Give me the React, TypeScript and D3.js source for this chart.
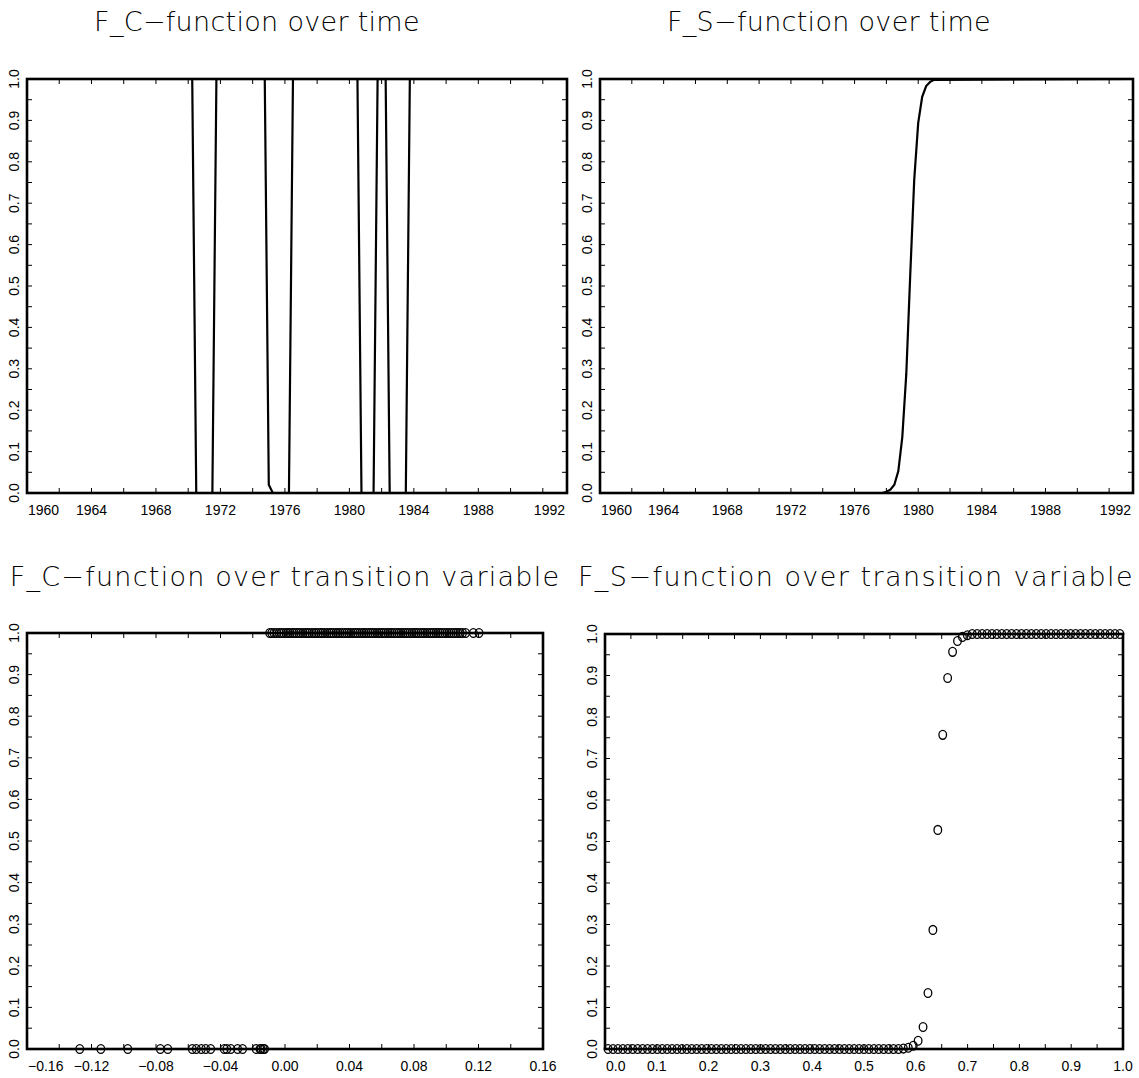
import * as d3 from "d3";
import { useEffect, useRef } from "react";

const W = 1139;
const H = 1078;

// y axis of every panel
const yLabels = [0, 0.1, 0.2, 0.3, 0.4, 0.5, 0.6, 0.7, 0.8, 0.9, 1.0];
const yMinor = [0, 0.05, 0.1, 0.15, 0.2, 0.25, 0.3, 0.35, 0.4, 0.45, 0.5, 0.55, 0.6, 0.65, 0.7, 0.75, 0.8, 0.85, 0.9, 0.95, 1.0];

// time axis
const yearLabels = [1960, 1964, 1968, 1972, 1976, 1980, 1984, 1988, 1992];
const yearMinor = [1960, 1962, 1964, 1966, 1968, 1970, 1972, 1974, 1976, 1978, 1980, 1982, 1984, 1986, 1988, 1990, 1992];

// F_C over time (corner points of the quarterly path)
const fcYears = [1960, 1970.25, 1970.5, 1971.5, 1971.75, 1974.75, 1975.0, 1975.25, 1976.25, 1976.5,
  1980.5, 1980.75, 1981.5, 1981.75, 1982.25, 1982.5, 1983.5, 1983.75, 1993.5];
const fcValues = [1, 1, 0, 0, 1, 1, 0.02, 0, 0, 1, 1, 0, 0, 1, 1, 0, 0, 1, 1];

// F_S over time
const fsYears = [1960, 1977.75, 1978.0, 1978.25, 1978.5, 1978.75, 1979.0, 1979.25, 1979.5, 1979.75,
  1980.0, 1980.25, 1980.5, 1980.75, 1981.0, 1993.5];
const fsValues = [0, 0, 0.003, 0.008, 0.02, 0.053, 0.135, 0.287, 0.528, 0.757, 0.894, 0.957, 0.983, 0.993, 0.998, 1];

// F_C over transition variable
const fcTransLabels = [-0.16, -0.12, -0.08, -0.04, 0.0, 0.04, 0.08, 0.12, 0.16];
const fcTransMinor = [-0.16, -0.14, -0.12, -0.1, -0.08, -0.06, -0.04, -0.02, 0, 0.02, 0.04, 0.06, 0.08, 0.1, 0.12, 0.14, 0.16];
const fcTransZero = [-0.1273, -0.1142, -0.0975, -0.0773, -0.0727, -0.0575, -0.055, -0.0519, -0.0492, -0.0461,
  -0.0377, -0.0361, -0.0336, -0.0294, -0.0263, -0.0179, -0.0148, -0.0127, -0.0135, -0.0155];
const fcTransOne = [-0.0095, -0.0082, -0.0068, -0.0051, -0.0035, -0.0022, -0.0008, 0.0007, 0.0019, 0.0031,
  0.0046, 0.0058, 0.0071, 0.0085, 0.0097, 0.0112, 0.0126, 0.0139, 0.0151, 0.0167,
  0.0181, 0.0193, 0.0208, 0.0222, 0.0234, 0.0247, 0.0262, 0.0276, 0.0288, 0.0301,
  0.0316, 0.0329, 0.0341, 0.0356, 0.0369, 0.0383, 0.0395, 0.0409, 0.0424, 0.0436,
  0.0449, 0.0463, 0.0478, 0.049, 0.0503, 0.0517, 0.0531, 0.0544, 0.0557, 0.0571,
  0.0585, 0.0598, 0.0611, 0.0624, 0.0639, 0.0652, 0.0664, 0.0678, 0.0693, 0.0706,
  0.0719, 0.0733, 0.0746, 0.0759, 0.0773, 0.0788, 0.0801, 0.0813, 0.0827, 0.0842,
  0.0855, 0.0867, 0.0881, 0.0896, 0.0909, 0.0922, 0.0936, 0.095, 0.0963, 0.0976,
  0.0991, 0.1004, 0.1018, 0.1031, 0.1046, 0.1059, 0.1072, 0.1086, 0.1101, 0.112,
  0.1168, 0.1203];

// F_S over transition variable
const fsTransLabels = [0, 0.1, 0.2, 0.3, 0.4, 0.5, 0.6, 0.7, 0.8, 0.9, 1.0];
const fsTransMinor = [0, 0.05, 0.1, 0.15, 0.2, 0.25, 0.3, 0.35, 0.4, 0.45, 0.5, 0.55, 0.6, 0.65, 0.7, 0.75, 0.8, 0.85, 0.9, 0.95, 1.0];
const fsTransX = [
  0.006, 0.0155, 0.025, 0.0345, 0.044, 0.0535, 0.063, 0.0725, 0.082, 0.0915,
  0.101, 0.1105, 0.12, 0.1295, 0.139, 0.1485, 0.158, 0.1675, 0.177, 0.1865,
  0.196, 0.2055, 0.215, 0.2245, 0.234, 0.2435, 0.253, 0.2625, 0.272, 0.2815,
  0.291, 0.3005, 0.31, 0.3195, 0.329, 0.3385, 0.348, 0.3575, 0.367, 0.3765,
  0.386, 0.3955, 0.405, 0.4145, 0.424, 0.4335, 0.443, 0.4525, 0.462, 0.4715,
  0.481, 0.4905, 0.5, 0.5095, 0.519, 0.5285, 0.538, 0.5475, 0.557, 0.5665,
  0.576, 0.5855, 0.595, 0.6045, 0.614, 0.6235, 0.633, 0.6425, 0.652, 0.6615,
  0.671, 0.6805, 0.69, 0.6995, 0.709, 0.7185, 0.728, 0.7375, 0.747, 0.7565,
  0.766, 0.7755, 0.785, 0.7945, 0.804, 0.8135, 0.823, 0.8325, 0.842, 0.8515,
  0.861, 0.8705, 0.88, 0.8895, 0.899, 0.9085, 0.918, 0.9275, 0.937, 0.9465,
  0.956, 0.9655, 0.975, 0.9845, 0.994];
const fsTransY = [
  0, 0, 0, 0, 0, 0, 0, 0, 0, 0,
  0, 0, 0, 0, 0, 0, 0, 0, 0, 0,
  0, 0, 0, 0, 0, 0, 0, 0, 0, 0,
  0, 0, 0, 0, 0, 0, 0, 0, 0, 0,
  0, 0, 0, 0, 0, 0, 0, 0, 0, 0,
  0, 0, 0, 0, 0, 0, 0, 0, 0, 0,
  0.001, 0.003, 0.008, 0.02, 0.053, 0.135, 0.287, 0.528, 0.757, 0.894,
  0.957, 0.983, 0.993, 0.997, 1, 1, 1, 1, 1, 1,
  1, 1, 1, 1, 1, 1, 1, 1, 1, 1,
  1, 1, 1, 1, 1, 1, 1, 1, 1, 1,
  1, 1, 1, 1, 1];

type PanelSpec = {
  title: string;
  titleX: number;
  titleY: number;
  spacing: number;
  x0: number; x1: number; y0: number; y1: number;
  domain: [number, number];
  labels: number[];
  minor: number[];
  fmt: (v: number) => string;
  kind: "line" | "dots";
  xs: number[][];
  ys: number[][];
};

const panels: PanelSpec[] = [
  {
    title: "F_C\u2212function over time", titleX: 257, titleY: 31, spacing: 0.3,
    x0: 27, x1: 567, y0: 79, y1: 493, domain: [1960, 1993.5],
    labels: yearLabels, minor: yearMinor, fmt: d => String(d),
    kind: "line", xs: [fcYears], ys: [fcValues],
  },
  {
    title: "F_S\u2212function over time", titleX: 829, titleY: 31, spacing: 0.3,
    x0: 600, x1: 1133, y0: 79, y1: 493, domain: [1960, 1993.5],
    labels: yearLabels, minor: yearMinor, fmt: d => String(d),
    kind: "line", xs: [fsYears], ys: [fsValues],
  },
  {
    title: "F_C\u2212function over transition variable", titleX: 285, titleY: 586, spacing: 1.25,
    x0: 27, x1: 543, y0: 633, y1: 1049, domain: [-0.16, 0.16],
    labels: fcTransLabels, minor: fcTransMinor, fmt: d => d3.format(".2f")(d).replace("-", "\u2212"),
    kind: "dots", xs: [fcTransZero, fcTransOne],
    ys: [fcTransZero.map(() => 0), fcTransOne.map(() => 1)],
  },
  {
    title: "F_S\u2212function over transition variable", titleX: 856, titleY: 586, spacing: 1.45,
    x0: 605, x1: 1123, y0: 634, y1: 1049, domain: [0, 1],
    labels: fsTransLabels, minor: fsTransMinor, fmt: d => d3.format(".1f")(d),
    kind: "dots", xs: [fsTransX], ys: [fsTransY],
  },
];

const drawPanel = (svg: d3.Selection<SVGSVGElement, unknown, null, undefined>, p: PanelSpec) => {
  const g = svg.append("g");
  const x = d3.scaleLinear().domain(p.domain).range([p.x0, p.x1]);
  const y = d3.scaleLinear().domain([0, 1]).range([p.y1, p.y0]);
  const tick = 5;
  const labelFont = "'Liberation Sans', Arial, sans-serif";

  g.append("text")
    .attr("x", p.titleX)
    .attr("y", p.titleY)
    .attr("text-anchor", "middle")
    .attr("fill", "#000")
    .style("font-family", "'DejaVu Sans', sans-serif")
    .style("font-weight", 200)
    .style("font-size", "27px")
    .style("letter-spacing", `${p.spacing}px`)
    .text(p.title);

  // data
  if (p.kind === "line") {
    p.xs.forEach((xs, i) => {
      const pts = xs.map((v, j) => [v, p.ys[i][j]] as [number, number]);
      g.append("path")
        .datum(pts)
        .attr("d", d3.line<[number, number]>().x(d => x(d[0])).y(d => y(d[1])))
        .attr("fill", "none")
        .attr("stroke", "#000")
        .attr("stroke-width", 2.2);
    });
  } else {
    p.xs.forEach((xs, i) => {
      g.selectAll(null)
        .data(xs.map((v, j) => [v, p.ys[i][j]]))
        .enter()
        .append("ellipse")
        .attr("cx", d => x(d[0]))
        .attr("cy", d => y(d[1]))
        .attr("rx", 3.8)
        .attr("ry", 4.4)
        .attr("fill", "none")
        .attr("stroke", "#000")
        .attr("stroke-width", 1.3);
    });
  }

  // ticks inside the frame
  p.minor.forEach(v => {
    g.append("line").attr("x1", x(v)).attr("x2", x(v)).attr("y1", p.y1).attr("y2", p.y1 - tick)
      .attr("stroke", "#000").attr("stroke-width", 1);
    g.append("line").attr("x1", x(v)).attr("x2", x(v)).attr("y1", p.y0).attr("y2", p.y0 + tick)
      .attr("stroke", "#000").attr("stroke-width", 1);
  });
  yMinor.forEach(v => {
    g.append("line").attr("x1", p.x0).attr("x2", p.x0 + tick).attr("y1", y(v)).attr("y2", y(v))
      .attr("stroke", "#000").attr("stroke-width", 1);
    g.append("line").attr("x1", p.x1).attr("x2", p.x1 - tick).attr("y1", y(v)).attr("y2", y(v))
      .attr("stroke", "#000").attr("stroke-width", 1);
  });

  g.append("rect")
    .attr("x", p.x0).attr("y", p.y0)
    .attr("width", p.x1 - p.x0).attr("height", p.y1 - p.y0)
    .attr("fill", "none").attr("stroke", "#000").attr("stroke-width", 2.6);

  // x labels; the end labels are pushed against the frame ends
  const last = p.labels.length - 1;
  p.labels.forEach((v, i) => {
    const t = g.append("text")
      .attr("y", p.y1 + 22)
      .attr("text-anchor", "middle")
      .style("font-family", labelFont)
      .style("font-size", "14px")
      .text(p.fmt(v));
    let px = x(v);
    const w = (t.node() as SVGTextElement).getComputedTextLength();
    if (i === 0 && px - w / 2 < p.x0 + 1) px = p.x0 + 1 + w / 2;
    if (i === last && px + w / 2 < p.x1 - 2) px = p.x1 - 2 - w / 2;
    t.attr("x", px);
  });

  // y labels, rotated
  yLabels.forEach(v => {
    g.append("text")
      .attr("transform", `translate(${p.x0 - 13}, ${y(v)}) rotate(-90)`)
      .attr("text-anchor", "middle")
      .attr("dy", "0.35em")
      .style("font-family", labelFont)
      .style("font-size", "14px")
      .text(d3.format(".1f")(v));
  });
};

const App = () => {
  const ref = useRef<SVGSVGElement>(null);

  useEffect(() => {
    const svg = d3.select(ref.current as SVGSVGElement);
    svg.selectAll("*").remove();
    panels.forEach(p => drawPanel(svg, p));
  }, []);

  return (
    <svg ref={ref} width={W} height={H}
      style={{ position: "absolute", left: 0, top: 0, background: "#fff" }}></svg>
  );
};

export default App;
